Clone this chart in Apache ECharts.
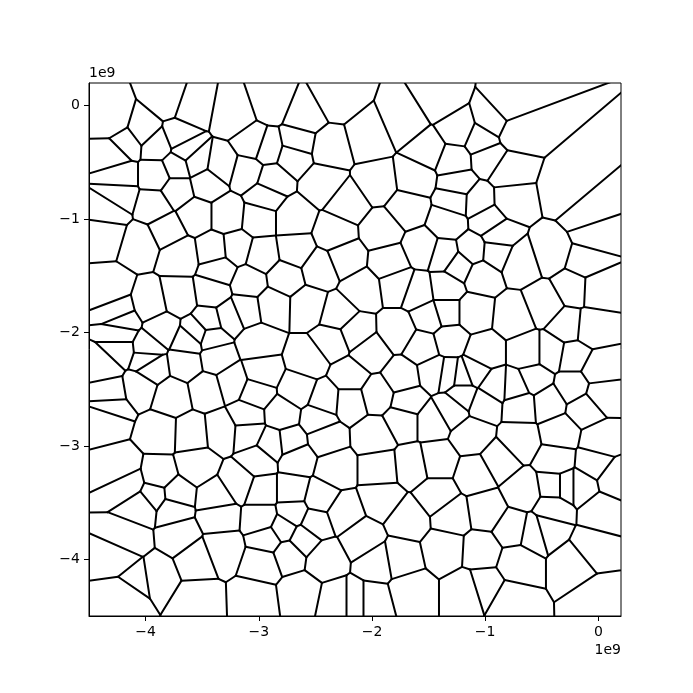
<!DOCTYPE html>
<html><head><meta charset="utf-8">
<script src="https://cdn.jsdelivr.net/npm/echarts@6/dist/echarts.min.js"></script>
<style>html,body{margin:0;padding:0;background:#fff}#c{width:693px;height:693px}</style>
</head><body><div id="c"></div>
<script>
// Voronoi seed points (units of 1e9)
const seedX = [
-4.288,-3.802,-3.599,-3.219,-2.883,-2.601,-2.318,-1.708,-1.399,-0.807,-0.728,-0.286,-0.101,-0.048,
-4.023,-4.173,-3.899,-3.705,-3.643,-3.555,-3.723,-3.908,-3.723,-3.458,-3.334,-3.051,-3.104,-3.926,
-4.279,-4.226,-4.235,-4.323,-4.350,-4.049,-3.811,-3.555,-3.281,-2.945,-2.998,-3.696,-3.396,-3.201,
-2.972,-2.883,-2.919,-2.371,-2.035,-2.698,-2.663,-2.433,-1.956,-1.620,-1.505,-2.698,-2.327,-2.212,
-1.912,-1.682,-2.680,-2.459,-2.239,-1.841,-1.558,-1.355,-0.931,-1.240,-1.037,-0.975,-1.276,-0.799,
-1.240,-0.772,-1.267,-1.064,-0.975,-0.887,-0.419,-0.693,-0.905,-1.329,-1.117,-0.118,
-4.314,-3.352,-4.244,-4.208,-4.226,-3.705,-3.413,-3.855,-3.617,-3.546,-3.422,-3.440,-3.263,-3.113,
-3.087,-3.643,-3.378,-3.988,-3.996,-4.226,-3.952,-4.359,-4.314,-4.058,-4.306,-4.332,-3.873,-3.767,
-3.458,-3.599,-3.237,-3.325,-3.025,-3.104,-3.095,-3.007,-2.972,-2.883,-3.961,
-2.769,-2.565,-2.088,-2.300,-1.770,-1.594,-1.346,-2.150,-1.770,-1.488,-1.549,-1.443,-2.565,-2.353,
-2.018,-2.654,-2.194,-1.735,-1.956,-2.194,-2.415,-2.795,-2.477,-2.415,-1.974,-1.682,-1.726,-1.470,
-1.231,-1.037,-0.216,-0.021,-0.074,-1.346,-1.108,-0.746,-0.481,-0.269,-0.419,-0.622,-0.224,-0.004,
-1.320,-1.011,-1.196,-1.099,-0.922,-0.569,-0.728,-0.684,-0.445,-0.224,0.023,-1.329,-1.196,-1.302,
-1.011,-1.117,-0.693,-0.339,-0.118,0.014,
-4.217,-3.555,-3.175,-3.378,-3.731,-3.882,-4.155,-3.926,-4.032,-3.767,-3.352,-3.705,-4.147,-4.217,
-4.076,-3.908,-3.537,-3.555,-3.325,-2.972,-2.963,-3.034,-2.972,-3.007,-4.173,
-2.883,-2.724,-2.663,-2.327,-1.929,-1.647,-1.426,-2.707,-2.459,-2.256,-1.912,-1.426,-1.682,-1.355,
-1.293,-2.698,-2.504,-2.786,-2.919,-2.742,-2.610,-2.415,-2.088,-1.753,-1.956,-2.636,-2.300,-2.150,
-2.000,-1.664,
-1.082,-0.878,-0.657,-0.375,-0.039,0.138,-0.154,0.023,-0.286,-0.392,-0.401,-0.065,-0.445,-0.569,
-0.754,-0.993,-1.037,-0.710,-0.216,-0.004,-1.152,-1.011,-0.781
];
const seedY = [
-0.136,0.049,-0.021,-0.092,0.023,-0.092,0.067,-0.145,0.049,-0.012,-0.224,-0.746,-0.966,-1.125,
-0.216,-0.330,-0.348,-0.269,-0.392,-0.489,-0.534,-0.613,-0.746,-0.684,-0.525,-0.330,-0.587,-0.878,
-0.436,-0.613,-0.790,-0.931,-1.125,-1.214,-1.099,-0.966,-0.966,-0.799,-0.993,-1.320,-1.276,-1.258,
-1.320,-0.657,-0.375,-0.375,-0.286,-0.445,-0.322,-0.684,-0.684,-0.640,-0.392,-0.993,-1.125,-0.860,
-1.099,-0.905,-1.276,-1.435,-1.346,-1.382,-1.258,-1.320,-0.127,-0.216,-0.304,-0.463,-0.481,-0.578,
-0.693,-0.834,-0.834,-0.843,-1.011,-1.143,-1.293,-1.382,-1.293,-1.028,-1.276,-1.382,
-1.629,-1.443,-1.814,-1.903,-2.009,-1.691,-1.647,-1.973,-2.080,-2.000,-2.044,-1.903,-1.859,-1.797,
-1.558,-2.265,-2.221,-2.133,-2.239,-2.159,-2.309,-2.300,-2.521,-2.477,-2.671,-2.751,-2.883,-2.565,
-2.504,-2.892,-2.442,-2.866,-2.530,-2.742,-2.883,-2.088,-2.353,-1.762,-1.744,
-1.514,-1.770,-1.620,-1.841,-1.576,-1.638,-1.602,-2.000,-1.991,-1.867,-2.124,-2.353,-2.239,-2.080,
-2.177,-2.504,-2.389,-2.398,-2.548,-2.610,-2.592,-2.724,-2.769,-2.928,-2.910,-2.610,-2.777,-2.777,
-1.408,-1.496,-1.602,-1.611,-1.965,-1.823,-1.823,-1.859,-1.753,-1.947,-2.177,-2.177,-2.212,-2.327,
-2.062,-2.177,-2.389,-2.353,-2.477,-2.415,-2.486,-2.636,-2.618,-2.477,-2.548,-2.371,-2.548,-2.680,
-2.618,-2.910,-2.954,-2.883,-2.671,-2.954,
-3.201,-3.175,-3.325,-3.458,-3.422,-3.263,-3.334,-3.440,-3.528,-3.555,-3.617,-3.793,-3.829,-3.988,
-4.164,-4.138,-4.367,-3.996,-3.908,-3.643,-4.032,-4.350,-3.396,-3.131,-4.306,
-2.981,-2.963,-3.113,-3.201,-3.201,-3.175,-3.131,-3.396,-3.458,-3.590,-3.466,-3.440,-3.643,-3.908,
-3.617,-3.590,-3.678,-3.731,-3.820,-3.952,-3.820,-3.996,-3.820,-3.996,-4.032,-4.297,-4.367,-4.367,
-4.367,-4.279,
-3.246,-3.131,-3.396,-3.131,-3.157,-3.290,-3.352,-3.572,-3.352,-3.352,-3.555,-3.908,-3.731,-3.767,
-3.731,-3.572,-3.926,-4.032,-4.032,-4.350,-4.279,-4.235,-4.367
];
const xTicks = [-4, -3, -2, -1, 0];
const yTicks = [-4, -3, -2, -1, 0];

// ---- Voronoi cells by half-plane clipping ----
const B0 = -9, B1 = 5;
function clip(poly, a, b, c) {
  const out = [];
  for (let k = 0; k < poly.length; k++) {
    const P = poly[k], Q = poly[(k + 1) % poly.length];
    const fp = a * P[0] + b * P[1] - c, fq = a * Q[0] + b * Q[1] - c;
    if (fp <= 0) out.push(P);
    if ((fp < 0 && fq > 0) || (fp > 0 && fq < 0)) {
      const t = fp / (fp - fq);
      out.push([P[0] + t * (Q[0] - P[0]), P[1] + t * (Q[1] - P[1])]);
    }
  }
  return out;
}
const n = Math.min(seedX.length, seedY.length);
const edges = [];
const seen = new Set();
const onBox = p => Math.abs(p[0]-B0)<1e-9||Math.abs(p[0]-B1)<1e-9||Math.abs(p[1]-B0)<1e-9||Math.abs(p[1]-B1)<1e-9;
for (let i = 0; i < n; i++) {
  let poly = [[B0, B0], [B1, B0], [B1, B1], [B0, B1]];
  for (let j = 0; j < n && poly.length; j++) {
    if (j === i) continue;
    const dx = seedX[j] - seedX[i], dy = seedY[j] - seedY[i];
    if (dx === 0 && dy === 0) continue;
    const mx = (seedX[j] + seedX[i]) / 2, my = (seedY[j] + seedY[i]) / 2;
    poly = clip(poly, dx, dy, mx * dx + my * dy);
  }
  for (let k = 0; k < poly.length; k++) {
    const P = poly[k], Q = poly[(k + 1) % poly.length];
    if (onBox(P) && onBox(Q)) continue;
    const a = P[0].toFixed(5) + ',' + P[1].toFixed(5), b = Q[0].toFixed(5) + ',' + Q[1].toFixed(5);
    const key = a < b ? a + '|' + b : b + '|' + a;
    if (seen.has(key)) continue;
    seen.add(key);
    edges.push([P[0], P[1], Q[0], Q[1]]);
  }
}

const minus = v => (v < 0 ? '\u2212' : '') + Math.abs(v);
const chart = echarts.init(document.getElementById('c'), null, {renderer: 'canvas'});
const axisCommon = {
  type: 'value',
  min: -4.5, max: 0.2,
  axisLine: {show: true, onZero: false, lineStyle: {color: '#000', width: 1}},
  splitLine: {show: false},
};
chart.setOption({
  animation: false,
  backgroundColor: '#fff',
  grid: {left: 89, top: 83, width: 532, height: 533, show: true, borderColor: '#000', borderWidth: 1, backgroundColor: 'transparent'},
  xAxis: Object.assign({}, axisCommon, {
    axisTick: {show: true, customValues: xTicks, length: 5, lineStyle: {color: '#000', width: 1}},
    axisLabel: {customValues: xTicks, formatter: minus, color: '#000', fontSize: 14, fontFamily: 'DejaVu Sans', margin: 9}
  }),
  yAxis: Object.assign({}, axisCommon, {
    axisTick: {show: true, customValues: yTicks, length: 5, lineStyle: {color: '#000', width: 1}},
    axisLabel: {customValues: yTicks, formatter: minus, color: '#000', fontSize: 14, fontFamily: 'DejaVu Sans', margin: 9}
  }),
  graphic: [
    {type: 'text', left: 89, top: 66, style: {text: '1e9', fontSize: 14, fontFamily: 'DejaVu Sans', fill: '#000'}},
    {type: 'text', right: 72, top: 643, style: {text: '1e9', fontSize: 14, fontFamily: 'DejaVu Sans', fill: '#000'}}
  ],
  series: [{
    type: 'custom',
    coordinateSystem: 'cartesian2d',
    clip: true,
    silent: true,
    encode: {x: [0, 2], y: [1, 3]},
    data: edges,
    renderItem: function (params, api) {
      const p1 = api.coord([api.value(0), api.value(1)]);
      const p2 = api.coord([api.value(2), api.value(3)]);
      return {type: 'line', shape: {x1: p1[0], y1: p1[1], x2: p2[0], y2: p2[1]},
        style: {stroke: '#000', lineWidth: 2, lineCap: 'round'}};
    }
  }]
});
</script></body></html>
